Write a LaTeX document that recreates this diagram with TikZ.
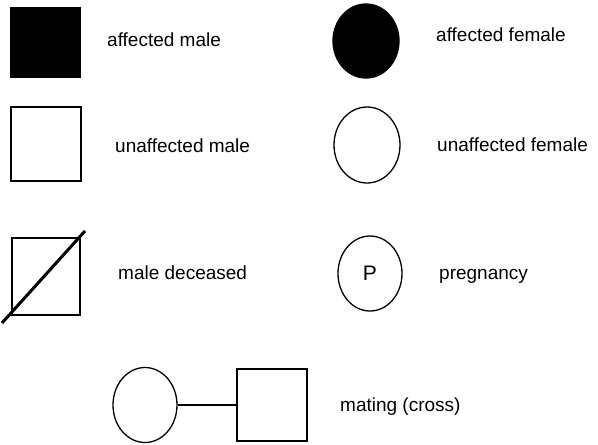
\documentclass[tikz,border=0pt]{standalone}
\usepackage{fontspec}
\setmainfont{Liberation Sans}
\usetikzlibrary{shapes.geometric}
\begin{document}
\begin{tikzpicture}[x=1pt,y=-1pt,
  sym/.style={draw=black,line width=1.3pt,inner sep=0pt},
  malebox/.style={sym,rectangle,minimum width=70pt,minimum height=72pt},
  femcirc/.style={sym,ellipse,minimum width=66pt,minimum height=75pt},
  lbl/.style={anchor=base west,inner sep=0pt,font=\fontsize{19}{21}\selectfont}]
\useasboundingbox (0,0) rectangle (598,445);
% affected male
\node[malebox,fill=black,minimum width=69pt,minimum height=69pt] (am) at (45.5,42.5) {};
\node[lbl] (amt) at (107,46) {affected male};
% unaffected male
\node[malebox,minimum width=70pt,minimum height=74pt] (um) at (46,144) {};
\node[lbl] (umt) at (115,152) {unaffected male};
% affected female
\node[femcirc,fill=black,minimum width=66pt,minimum height=74pt] (af) at (366,41) {};
\node[lbl] (aft) at (436,41) {affected female};
% unaffected female
\node[femcirc,minimum width=66pt,minimum height=76pt] (uf) at (367,145) {};
\node[lbl] (uft) at (437,151) {unaffected female};
% male deceased
\node[malebox,minimum width=68pt,minimum height=77pt] (md) at (46,276.5) {};
\coordinate (d1) at (2,323);
\coordinate (d2) at (85,231);
\draw[line width=3pt] (d1) -- (d2);
\node[lbl] (mdt) at (118,279) {male deceased};
% pregnancy
\node[femcirc,minimum width=64pt,minimum height=75pt,font=\fontsize{21}{23}\selectfont] (pg) at (370,273.5) {P};
\node[lbl] (pgt) at (439,279) {pregnancy};
% mating
\node[femcirc,minimum width=64pt,minimum height=75pt] (mf) at (145,405) {};
\node[malebox,minimum width=70pt,minimum height=72pt] (mm) at (272,405) {};
\draw[line width=1.3pt] (mf) -- (mm);
\node[lbl] (mt) at (340,411) {mating (cross)};
\end{tikzpicture}
\end{document}
